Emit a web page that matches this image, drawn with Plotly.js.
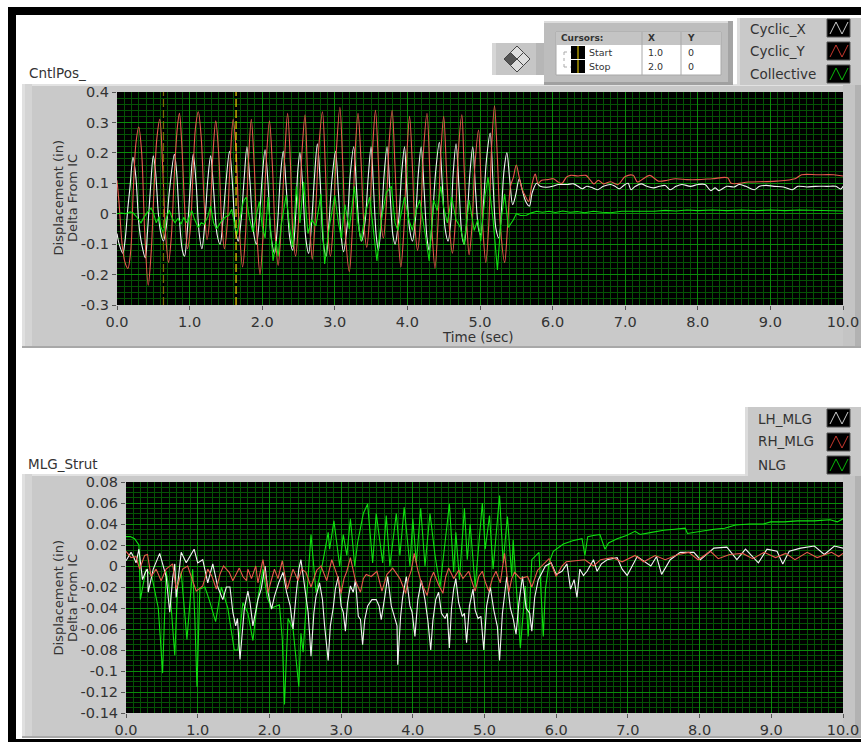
<!DOCTYPE html>
<html><head><meta charset="utf-8">
<script src="https://cdn.plot.ly/plotly-3.0.1.min.js"></script>
<style>html,body{margin:0;padding:0;background:#fff;overflow:hidden}</style>
</head><body><div id="chart" style="width:861px;height:742px"></div>
<script>
// Values: [time (s), displacement (in)]
const cyclicX=[[0,-.065],[.03,-.1],[.08,-.13],[.11,-.09],[.15,.02],[.18,.09],[.22,.185],[.26,.12],[.3,-.03],[.34,-.1],[.39,-.145],[.42,-.06],[.46,.08],[.5,.19],[.53,.14],[.57,.0],[.6,-.06],[.64,-.09],[.68,-.04],[.72,.07],[.79,.195],[.82,.14],[.86,-.02],[.9,-.12],[.93,-.14],[.97,-.05],[1.01,.09],[1.05,.195],[1.09,.1],[1.13,-.06],[1.17,-.115],[1.21,-.03],[1.25,.11],[1.29,.19],[1.33,.08],[1.38,-.07],[1.42,-.1],[1.46,-.02],[1.5,.1],[1.55,.205],[1.59,.1],[1.63,-.05],[1.67,-.09],[1.71,-.02],[1.75,.11],[1.79,.22],[1.83,.11],[1.88,-.06],[1.92,-.1],[1.96,-.02],[2,.12],[2.04,.21],[2.08,.1],[2.12,-.07],[2.17,-.13],[2.21,-.04],[2.25,.12],[2.29,.205],[2.33,.09],[2.38,-.08],[2.42,-.12],[2.46,-.01],[2.49,.14],[2.52,.2],[2.56,.08],[2.6,-.08],[2.64,-.13],[2.68,-.03],[2.72,.12],[2.76,.23],[2.8,.1],[2.84,-.09],[2.88,-.14],[2.92,-.03],[2.96,.11],[3.01,.205],[3.05,.07],[3.09,-.08],[3.12,-.125],[3.17,-.04],[3.21,.12],[3.26,.22],[3.3,.08],[3.34,-.06],[3.37,-.09],[3.42,-.02],[3.46,.12],[3.5,.22],[3.53,.1],[3.57,-.07],[3.6,-.12],[3.64,-.03],[3.68,.13],[3.72,.22],[3.76,.07],[3.8,-.07],[3.83,-.1],[3.88,-.02],[3.92,.13],[3.96,.22],[3.99,.09],[4.03,-.05],[4.07,-.09],[4.11,-.02],[4.15,.13],[4.19,.22],[4.23,.08],[4.27,-.08],[4.3,-.12],[4.34,-.03],[4.39,.14],[4.44,.235],[4.48,.1],[4.52,-.05],[4.56,-.09],[4.6,-.02],[4.63,.13],[4.67,.23],[4.71,.09],[4.75,-.07],[4.78,-.1],[4.82,-.02],[4.86,.13],[4.9,.22],[4.94,.07],[4.98,-.05],[5.01,-.07],[5.05,.04],[5.09,.18],[5.14,.265],[5.18,.1],[5.22,-.05],[5.26,-.08],[5.3,.03],[5.33,.14],[5.37,.2],[5.41,.11],[5.45,.03],[5.49,.06],[5.54,.115],[5.58,.08],[5.63,.04],[5.68,.025],[5.72,.07],[5.78,.1],[5.83,.09],[5.92,.087],[6.0,.09],[6.08,.096],[6.2,.096],[6.29,.098],[6.35,.09],[6.41,.082],[6.47,.09],[6.53,.087],[6.62,.079],[6.7,.09],[6.8,.096],[6.86,.09],[6.92,.082],[6.98,.093],[7.04,.1],[7.08,.079],[7.14,.09],[7.22,.098],[7.3,.09],[7.39,.085],[7.47,.09],[7.55,.093],[7.62,.079],[7.7,.09],[7.78,.096],[7.9,.09],[8.0,.096],[8.1,.096],[8.18,.076],[8.24,.085],[8.29,.076],[8.4,.09],[8.5,.088],[8.57,.096],[8.66,.09],[8.78,.079],[8.85,.09],[8.94,.093],[9.05,.09],[9.18,.088],[9.3,.079],[9.38,.09],[9.5,.088],[9.62,.09],[9.78,.09],[9.9,.09],[9.97,.081],[10,.09]];
const cyclicY=[[0,.11],[.03,.03],[.07,-.1],[.11,-.16],[.15,-.18],[.19,-.12],[.22,.05],[.26,.23],[.3,.285],[.34,.2],[.38,-.05],[.43,-.235],[.47,-.13],[.51,.08],[.55,.25],[.59,.31],[.63,.15],[.67,-.07],[.71,-.16],[.75,-.07],[.79,.13],[.83,.28],[.86,.33],[.89,.24],[.93,.03],[.97,-.115],[1.01,-.05],[1.05,.15],[1.08,.28],[1.12,.335],[1.16,.25],[1.2,.04],[1.24,-.085],[1.28,-.01],[1.32,.19],[1.36,.305],[1.4,.2],[1.44,-.02],[1.48,-.115],[1.52,-.03],[1.56,.18],[1.6,.31],[1.64,.21],[1.68,-.03],[1.73,-.175],[1.77,-.07],[1.81,.17],[1.85,.31],[1.89,.16],[1.93,-.08],[1.97,-.2],[2.01,-.08],[2.05,.15],[2.1,.305],[2.14,.16],[2.18,-.07],[2.22,-.17],[2.26,-.05],[2.31,.19],[2.35,.33],[2.39,.16],[2.42,-.05],[2.46,-.14],[2.5,-.03],[2.55,.21],[2.59,.325],[2.62,.16],[2.66,-.06],[2.69,-.15],[2.73,-.02],[2.78,.22],[2.83,.335],[2.87,.15],[2.9,-.05],[2.94,-.14],[2.98,-.03],[3.02,.2],[3.07,.35],[3.11,.16],[3.15,-.08],[3.2,-.19],[3.24,-.06],[3.28,.2],[3.32,.33],[3.36,.18],[3.4,-.03],[3.44,-.11],[3.48,-.01],[3.52,.21],[3.56,.34],[3.6,.17],[3.63,-.01],[3.67,-.08],[3.71,.03],[3.75,.24],[3.79,.34],[3.83,.15],[3.87,-.06],[3.91,-.175],[3.95,-.06],[3.99,.18],[4.03,.32],[4.07,.15],[4.1,-.03],[4.14,-.12],[4.18,-.03],[4.22,.2],[4.27,.33],[4.31,.13],[4.34,-.06],[4.38,-.18],[4.42,-.04],[4.46,.2],[4.5,.32],[4.54,.13],[4.58,-.05],[4.62,-.13],[4.66,-.03],[4.7,.2],[4.75,.325],[4.78,.16],[4.82,-.04],[4.85,-.135],[4.89,-.04],[4.93,.16],[4.98,.275],[5.01,.13],[5.04,-.05],[5.08,-.16],[5.12,-.04],[5.16,.22],[5.2,.355],[5.24,.18],[5.28,-.04],[5.34,-.16],[5.38,-.04],[5.42,.09],[5.46,.12],[5.5,.16],[5.54,.12],[5.58,.08],[5.62,.06],[5.67,.04],[5.71,.09],[5.76,.13],[5.8,.1],[5.85,.11],[5.93,.112],[6.01,.115],[6.07,.105],[6.13,.1],[6.19,.12],[6.25,.126],[6.35,.124],[6.46,.126],[6.52,.11],[6.57,.098],[6.63,.11],[6.7,.098],[6.8,.105],[6.9,.096],[7,.122],[7.11,.126],[7.17,.104],[7.25,.115],[7.34,.126],[7.46,.107],[7.58,.11],[7.69,.115],[7.85,.112],[8.0,.112],[8.2,.115],[8.41,.118],[8.46,.1],[8.7,.104],[9.08,.107],[9.34,.115],[9.43,.128],[9.65,.128],[9.87,.128],[10,.124]];
const collective=[[0,0],[.06,.002],[.12,0],[.18,.006],[.22,.003],[.27,-.01],[.33,-.03],[.37,-.012],[.42,.005],[.47,.018],[.5,.005],[.54,-.03],[.58,-.01],[.6,-.04],[.64,-.065],[.67,-.02],[.72,.012],[.76,-.015],[.8,-.03],[.84,-.015],[.88,-.035],[.92,-.012],[.96,-.03],[1,-.005],[1.03,.01],[1.07,-.02],[1.12,-.045],[1.16,-.03],[1.2,-.035],[1.25,-.01],[1.29,.025],[1.33,-.03],[1.37,-.05],[1.41,-.035],[1.45,-.02],[1.5,-.01],[1.54,-.005],[1.58,.015],[1.62,-.04],[1.65,-.07],[1.69,-.02],[1.74,.04],[1.78,.055],[1.82,-.01],[1.87,-.06],[1.91,-.02],[1.96,.04],[2.0,-.04],[2.04,-.08],[2.08,.055],[2.12,-.05],[2.15,-.155],[2.19,-.09],[2.22,-.14],[2.26,-.04],[2.33,.06],[2.38,-.05],[2.42,-.11],[2.47,.09],[2.52,-.03],[2.57,.105],[2.63,-.065],[2.68,-.02],[2.74,-.04],[2.81,.065],[2.86,-.165],[2.92,-.05],[3,.06],[3.05,-.03],[3.09,-.08],[3.14,.03],[3.2,-.05],[3.27,.09],[3.32,-.03],[3.36,-.09],[3.42,.0],[3.48,.055],[3.53,-.06],[3.58,-.155],[3.64,-.02],[3.71,.07],[3.78,.09],[3.83,-.03],[3.87,-.055],[3.96,.055],[4.02,-.02],[4.07,-.055],[4.12,.01],[4.17,.045],[4.24,-.06],[4.3,-.155],[4.36,.045],[4.41,.01],[4.46,.09],[4.5,.02],[4.55,-.03],[4.61,.055],[4.67,-.02],[4.73,-.045],[4.78,-.1],[4.85,.045],[4.92,-.055],[4.97,-.02],[5.01,-.09],[5.07,.06],[5.11,.12],[5.18,-.02],[5.24,-.185],[5.29,-.02],[5.34,.065],[5.39,-.045],[5.46,-.02],[5.5,0],[5.56,-.006],[5.64,-.005],[5.7,.002],[5.78,.008],[5.86,.005],[5.95,.008],[6.04,.004],[6.14,.009],[6.24,.005],[6.34,.007],[6.44,.003],[6.56,.008],[6.68,.005],[6.8,.003],[6.95,.008],[7.1,.008],[7.25,.01],[7.4,.008],[7.55,.011],[7.7,.009],[7.85,.012],[8.0,.01],[8.2,.012],[8.4,.01],[8.6,.012],[8.8,.01],[9.0,.012],[9.2,.01],[9.4,.012],[9.6,.011],[9.8,.012],[10,.009]];
const lhMlg=[[0,.005],[.04,.009],[.07,.013],[.11,.008],[.14,.003],[.18,.016],[.23,-.013],[.27,-.006],[.3,-.003],[.31,-.025],[.38,-.003],[.47,.012],[.51,.002],[.56,-.01],[.61,-.044],[.65,-.012],[.68,.002],[.7,-.03],[.77,.013],[.84,.003],[.95,.016],[1,.003],[1.07,.006],[1.14,-.016],[1.21,.002],[1.28,-.02],[1.35,-.032],[1.4,-.02],[1.45,-.02],[1.49,-.044],[1.53,-.057],[1.555,-.05],[1.59,-.089],[1.62,-.063],[1.65,-.041],[1.7,-.024],[1.73,-.035],[1.77,-.057],[1.81,-.044],[1.84,-.032],[1.885,-.022],[1.94,0],[1.98,-.025],[2.03,-.041],[2.07,-.029],[2.13,-.016],[2.19,-.006],[2.24,-.025],[2.29,-.038],[2.33,-.06],[2.37,-.029],[2.41,-.003],[2.44,.006],[2.49,-.019],[2.54,-.044],[2.56,-.064],[2.58,-.086],[2.62,-.045],[2.65,-.029],[2.7,-.016],[2.74,-.032],[2.77,-.057],[2.82,-.09],[2.85,-.057],[2.89,-.04],[2.92,-.022],[2.96,-.01],[3.0,-.038],[3.03,-.044],[3.06,-.062],[3.09,-.035],[3.13,-.019],[3.17,-.025],[3.2,-.013],[3.24,-.048],[3.27,-.051],[3.3,-.075],[3.33,-.051],[3.37,-.038],[3.43,-.032],[3.49,-.032],[3.53,-.038],[3.56,-.051],[3.61,-.029],[3.65,-.01],[3.7,-.038],[3.75,-.051],[3.78,-.057],[3.79,-.094],[3.83,-.048],[3.86,-.029],[3.91,-.01],[3.96,-.038],[3.99,-.044],[4.03,-.067],[4.07,-.032],[4.12,-.014],[4.17,-.032],[4.21,-.052],[4.25,-.08],[4.28,-.052],[4.32,-.032],[4.36,-.025],[4.4,-.045],[4.45,-.05],[4.48,-.045],[4.51,-.078],[4.54,-.04],[4.57,-.022],[4.6,-.012],[4.64,-.035],[4.69,-.048],[4.72,-.045],[4.75,-.073],[4.79,-.038],[4.84,-.022],[4.87,-.042],[4.91,-.05],[4.95,-.048],[4.99,-.08],[5.03,-.038],[5.08,-.02],[5.13,-.042],[5.18,-.058],[5.21,-.09],[5.25,-.045],[5.31,-.01],[5.36,-.04],[5.4,-.05],[5.44,-.065],[5.48,-.035],[5.53,-.01],[5.58,-.04],[5.63,-.045],[5.66,-.062],[5.7,-.03],[5.75,-.013],[5.85,0],[5.93,.003],[6,-.008],[6.08,-.005],[6.15,.002],[6.2,-.022],[6.25,-.013],[6.29,-.03],[6.33,-.003],[6.38,-.009],[6.43,-.005],[6.52,.006],[6.57,-.005],[6.63,.002],[6.71,.006],[6.85,.008],[6.92,-.003],[6.99,-.009],[7.13,.009],[7.32,0],[7.4,.009],[7.47,-.008],[7.59,.006],[7.73,.013],[7.92,.013],[8.01,.006],[8.2,.017],[8.38,.018],[8.52,.006],[8.64,.016],[8.82,.003],[8.94,.016],[9.08,.014],[9.16,.002],[9.25,.014],[9.41,.017],[9.6,.019],[9.74,.011],[9.88,.019],[10,.017]];
const rhMlg=[[0,.014],[.07,.008],[.14,.009],[.19,-.003],[.26,.01],[.3,.011],[.35,-.01],[.42,-.003],[.49,-.014],[.56,-.003],[.65,.002],[.7,-.022],[.79,-.003],[.86,0],[.92,-.012],[.98,-.024],[1.07,-.019],[1.14,-.003],[1.2,-.01],[1.26,-.022],[1.31,-.008],[1.36,0],[1.44,-.006],[1.49,-.014],[1.58,-.002],[1.63,-.01],[1.68,-.014],[1.7,-.003],[1.75,-.012],[1.81,0],[1.84,-.016],[1.91,.006],[1.98,-.025],[2.03,-.012],[2.07,-.003],[2.12,-.012],[2.18,.005],[2.25,-.022],[2.33,-.003],[2.4,-.014],[2.45,-.003],[2.51,-.006],[2.58,-.02],[2.66,-.004],[2.72,.0],[2.8,-.014],[2.87,.006],[2.96,-.012],[3.0,-.026],[3.04,-.012],[3.08,-.005],[3.13,.008],[3.2,-.014],[3.27,-.025],[3.31,-.012],[3.35,-.008],[3.42,-.01],[3.5,-.005],[3.57,-.024],[3.64,-.008],[3.72,-.002],[3.82,-.012],[3.9,-.026],[3.94,-.012],[3.98,-.004],[4.02,.012],[4.07,-.004],[4.12,-.016],[4.2,-.028],[4.25,-.012],[4.29,-.006],[4.36,-.018],[4.42,-.026],[4.46,-.01],[4.5,-.002],[4.57,-.012],[4.64,-.004],[4.7,-.012],[4.78,-.005],[4.83,-.016],[4.87,-.024],[4.92,-.01],[4.97,-.005],[5.01,-.015],[5.06,-.024],[5.11,-.012],[5.16,-.005],[5.22,-.016],[5.28,.012],[5.34,-.025],[5.38,-.012],[5.42,-.006],[5.5,-.012],[5.6,-.01],[5.66,-.02],[5.74,-.004],[5.84,.003],[5.9,.007],[6,-.01],[6.08,.0],[6.14,.004],[6.3,.005],[6.4,.006],[6.52,0],[6.62,.006],[6.78,.008],[6.92,.004],[7.1,.01],[7.22,.004],[7.38,.01],[7.52,.006],[7.7,.011],[7.85,.013],[7.98,.006],[8.15,.014],[8.26,.007],[8.42,.011],[8.6,.012],[8.74,.007],[8.9,.013],[9.06,.008],[9.2,.012],[9.33,.006],[9.5,.013],[9.64,.008],[9.84,.013],[9.94,.009],[10,.012]];
const nlg=[[0,.028],[.06,.028],[.12,.026],[.18,.02],[.2,-.032],[.24,-.018],[.28,-.003],[.36,-.01],[.45,-.04],[.48,-.07],[.51,-.102],[.56,-.005],[.62,-.03],[.68,-.085],[.72,-.02],[.77,-.006],[.85,-.07],[.93,-.003],[.96,-.05],[.99,-.115],[1.03,-.022],[1.1,-.02],[1.16,-.032],[1.25,-.053],[1.33,-.02],[1.42,-.04],[1.51,-.08],[1.56,-.08],[1.63,-.035],[1.7,-.045],[1.77,-.071],[1.84,-.03],[1.91,-.003],[1.97,-.03],[2.03,-.04],[2.14,-.037],[2.18,-.07],[2.21,-.132],[2.26,-.05],[2.33,-.06],[2.41,-.115],[2.44,-.064],[2.47,-.082],[2.52,-.03],[2.58,.03],[2.65,-.025],[2.74,.002],[2.82,.032],[2.84,.016],[2.9,.043],[2.98,0],[3.03,.03],[3.08,.01],[3.13,.045],[3.19,0],[3.23,.022],[3.31,.05],[3.37,.059],[3.44,.003],[3.49,.05],[3.58,.003],[3.63,.048],[3.68,0],[3.77,.05],[3.82,.01],[3.88,.056],[3.96,0],[4,.045],[4.05,.003],[4.11,.055],[4.17,0],[4.24,.05],[4.31,.01],[4.38,-.02],[4.51,.059],[4.57,-.006],[4.6,.032],[4.65,-.013],[4.72,.055],[4.76,.006],[4.8,.04],[4.87,-.02],[4.97,.06],[5.01,.016],[5.07,.048],[5.12,-.003],[5.21,.067],[5.26,.003],[5.32,.047],[5.38,-.01],[5.4,.025],[5.5,-.078],[5.57,-.019],[5.61,-.067],[5.66,.006],[5.76,.013],[5.82,-.067],[5.85,-.022],[5.9,.003],[5.96,.014],[6.1,.021],[6.23,.024],[6.36,.026],[6.4,.01],[6.44,.028],[6.52,.029],[6.61,.03],[6.68,.016],[6.73,.022],[6.85,.026],[6.98,.029],[7.1,.033],[7.17,.03],[7.33,.032],[7.5,.034],[7.65,.035],[7.8,.036],[7.83,.031],[8,.033],[8.2,.035],[8.35,.036],[8.5,.039],[8.7,.04],[8.89,.04],[8.99,.042],[9.18,.042],[9.36,.043],[9.6,.043],[9.82,.044],[9.92,.042],[10,.045]];

const cursorTimes=[0.64,1.64];
const topYTicks=[0.4,0.3,0.2,0.1,0,-0.1,-0.2,-0.3];
const topYLabels=['0.4','0.3','0.2','0.1','0','-0.1','-0.2','-0.3'];
const botYTicks=[0.08,0.06,0.04,0.02,0,-0.02,-0.04,-0.06,-0.08,-0.1,-0.12,-0.14];
const botYLabels=['0.08','0.06','0.04','0.02','0','-0.02','-0.04','-0.06','-0.08','-0.1','-0.12','-0.14'];
const xTicks=[0,1,2,3,4,5,6,7,8,9,10];
const xLabels=['0.0','1.0','2.0','3.0','4.0','5.0','6.0','7.0','8.0','9.0','10.0'];

const W=861,H=742;
const px=x=>x/W, py=y=>1-y/H;
const C_WHITE='#f4f4f4',C_RED='#e85a4c',C_GREEN='#0fe00f';
const FONT='"DejaVu Sans", sans-serif',TXT='#333';

function line(data,color,name,xa,ya,spline){
  return {x:data.map(p=>p[0]),y:data.map(p=>p[1]),type:'scatter',mode:'lines',name:name,xaxis:xa,yaxis:ya,
          line:{color:color,width:1.1,shape:spline?'spline':'linear',smoothing:0.9},hoverinfo:'x+y+name'};
}
const traces=[
  line(cyclicX,C_WHITE,'Cyclic_X','x','y',true),
  line(cyclicY,C_RED,'Cyclic_Y','x','y',true),
  line(collective,C_GREEN,'Collective','x','y',false),
  line(nlg,C_GREEN,'NLG','x2','y2',false),
  line(lhMlg,C_WHITE,'LH_MLG','x2','y2',false),
  line(rhMlg,C_RED,'RH_MLG','x2','y2',false)
];

const shapes=[];
function rect(x0,y0,x1,y1,fill,border,layer){
  shapes.push({type:'rect',xref:'paper',yref:'paper',x0:px(x0),x1:px(x1),y0:py(y0),y1:py(y1),
    fillcolor:fill,line:{width:border?1:0,color:border||fill},layer:layer||'below'});
}
function seg(x0,y0,x1,y1,color,w,dash){
  shapes.push({type:'line',xref:'paper',yref:'paper',x0:px(x0),x1:px(x1),y0:py(y0),y1:py(y1),
    line:{color:color,width:w||1,dash:dash||'solid'},layer:'below'});
}
function poly(pts,fill,stroke){
  const d=pts.map((p,i)=>(i?'L':'M')+px(p[0])+','+py(p[1])).join(' ')+(fill?' Z':'');
  shapes.push({type:'path',xref:'paper',yref:'paper',path:d,fillcolor:fill||'rgba(0,0,0,0)',
    line:{color:stroke||fill,width:1},layer:'below'});
}
rect(8,7,861,15,'#000');
rect(8,7,16,742,'#000');
rect(8,739,861,742,'#000');
function panel(x0,y0,x1,y1){
  rect(x0,y0,x1,y1,'#c9c9c9');
  rect(x0,y0,x1,y0+2,'#e2e2e2');
  rect(x0,y0,x0+10,y1,'#d4d4d4');
  rect(x0,y0,x0+3,y1,'#e0e0e0');
  rect(x1-18,y0,x1-6,y1,'#c4c4c4');
  rect(x1-6,y0,x1,y1,'#b2b2b2');
  rect(x0,y1-2,x1,y1,'#a8a8a8');
}
panel(22,84,861,348);
panel(22,474,861,738);
rect(117,92,843,305,'#000');
rect(126,482,843,713,'#000');

rect(492,43,544,75,'#c6c6c6');
rect(492,43,496,75,'#d6d6d6');
rect(536,43,544,75,'#b6b6b6');
const dx=517,dy=59;
poly([[dx-13,dy],[dx-6.5,dy-6.5],[dx,dy],[dx-6.5,dy+6.5]],'#555','#444');
poly([[dx,dy],[dx+6.5,dy-6.5],[dx+13,dy],[dx+6.5,dy+6.5]],'#ddd','#444');
poly([[dx-6.5,dy-6.5],[dx,dy-13],[dx+6.5,dy-6.5],[dx,dy]],'#ddd','#444');
poly([[dx-6.5,dy+6.5],[dx,dy],[dx+6.5,dy+6.5],[dx,dy+13]],'#ddd','#444');
rect(544,21,733,85,'#bdbdbd');
rect(544,21,733,23,'#dcdcdc');
rect(728,21,733,85,'#a4a4a4');
rect(544,82,733,85,'#a0a0a0');
rect(556,32,721,75,'#fff','#a8a8a8');
rect(556,32,721,45,'#c4c4c4');
seg(642,32,642,75,'#a8a8a8');seg(681,32,681,75,'#a8a8a8');
rect(571,46,585,59,'#000');rect(571,60,585,73,'#000');
seg(578,46,578,59,'#ffe000',1);seg(578,60,578,73,'#ffe000',1);
seg(564,52,571,52,'#aaa',1,'dot');seg(564,52,564,67,'#aaa',1,'dot');seg(564,67,571,67,'#aaa',1,'dot');

rect(737,18,861,85,'#c9c9c9');
rect(737,18,740,85,'#dcdcdc');
rect(745,407,861,476,'#c9c9c9');
rect(745,407,748,476,'#dcdcdc');
function swatch(y0,color){
  rect(827,y0,850,y0+18,'#000','#555');
  poly([[830,y0+15],[836,y0+3],[842,y0+15],[848,y0+3]],null,color);
}
swatch(19,'#cfcfcf');swatch(42,'#c8382e');swatch(65,'#0ab80a');
swatch(409,'#cfcfcf');swatch(433,'#c8382e');swatch(456,'#0ab80a');

cursorTimes.forEach((t,i)=>{
  shapes.push({type:'line',xref:'x',yref:'y domain',x0:t,x1:t,y0:0,y1:1,
    line:{color:i?'#f0d000':'#7a7000',width:1.2,dash:'8px,3px'},layer:'above'});
});

function ann(text,x,y,size,opts){
  return Object.assign({text:text,xref:'paper',yref:'paper',x:px(x),y:py(y),showarrow:false,
    xanchor:'left',yanchor:'middle',font:{family:FONT,size:size,color:TXT}},opts||{});
}
const vert={xanchor:'center',textangle:-90};
const annotations=[
  ann('CntlPos_',27,73,13.5),
  ann('MLG_Strut',26,464,13.5),
  ann('Cyclic_X',748,29,13.5),ann('Cyclic_Y',748,51,13.5),ann('Collective',748,74,13.5),
  ann('LH_MLG',756,419,13.5),ann('RH_MLG',756,441,13.5),ann('NLG',756,465,13.5),
  ann('<b>Cursors:</b>',559,38,9),ann('<b>X</b>',646,38,9),ann('<b>Y</b>',685,38,9),
  ann('Start',587,52,9.5),ann('Stop',587,66,9.5),
  ann('1.0',646,52,9.5),ann('2.0',646,66,9.5),ann('0',686,52,9.5),ann('0',686,66,9.5),
  ann('Time (sec)',478,337,13.5,{xanchor:'center'}),
  ann('Displacement (in)',57.5,198,13,vert),ann('Delta From IC',72,198,13,vert),
  ann('Displacement (in)',57.5,598,13,vert),ann('Delta From IC',72,598,13,vert)
];

const MAJOR='#0a8a0a',MINOR='#055205';
function xAxis(left,anchor){
  return {domain:[px(left),px(843)],range:[0,10],anchor:anchor,tickmode:'array',tickvals:xTicks,ticktext:xLabels,
    ticks:'outside',ticklen:4,tickcolor:'#555',showgrid:true,gridcolor:MAJOR,gridwidth:1,zeroline:false,
    showline:false,tickfont:{family:FONT,size:14.5,color:TXT},
    minor:{tickmode:'linear',dtick:0.1,tick0:0,showgrid:true,gridcolor:MINOR,gridwidth:1,ticks:''},fixedrange:true};
}
function yAxis(top,bot,range,tv,tt,minorStep,anchor){
  return {domain:[py(bot),py(top)],range:range,anchor:anchor,tickmode:'array',tickvals:tv,ticktext:tt,
    ticks:'outside',ticklen:4,tickcolor:'#555',showgrid:true,gridcolor:MAJOR,gridwidth:1,zeroline:false,
    showline:false,tickfont:{family:FONT,size:14.5,color:TXT},
    minor:{tickmode:'linear',dtick:minorStep,tick0:0,showgrid:true,gridcolor:MINOR,gridwidth:1,ticks:''},fixedrange:true};
}
const layout={
  width:W,height:H,autosize:false,margin:{l:0,r:0,t:0,b:0,pad:0},
  paper_bgcolor:'#fff',plot_bgcolor:'#000',showlegend:false,
  xaxis:xAxis(117,'y'),
  yaxis:yAxis(92,305,[-0.3,0.4],topYTicks,topYLabels,0.02,'x'),
  xaxis2:xAxis(126,'y2'),
  yaxis2:yAxis(482,713,[-0.14,0.08],botYTicks,botYLabels,0.005,'x2'),
  shapes:shapes,annotations:annotations
};
Plotly.newPlot('chart',traces,layout,{displayModeBar:false,staticPlot:true});
</script></body></html>
